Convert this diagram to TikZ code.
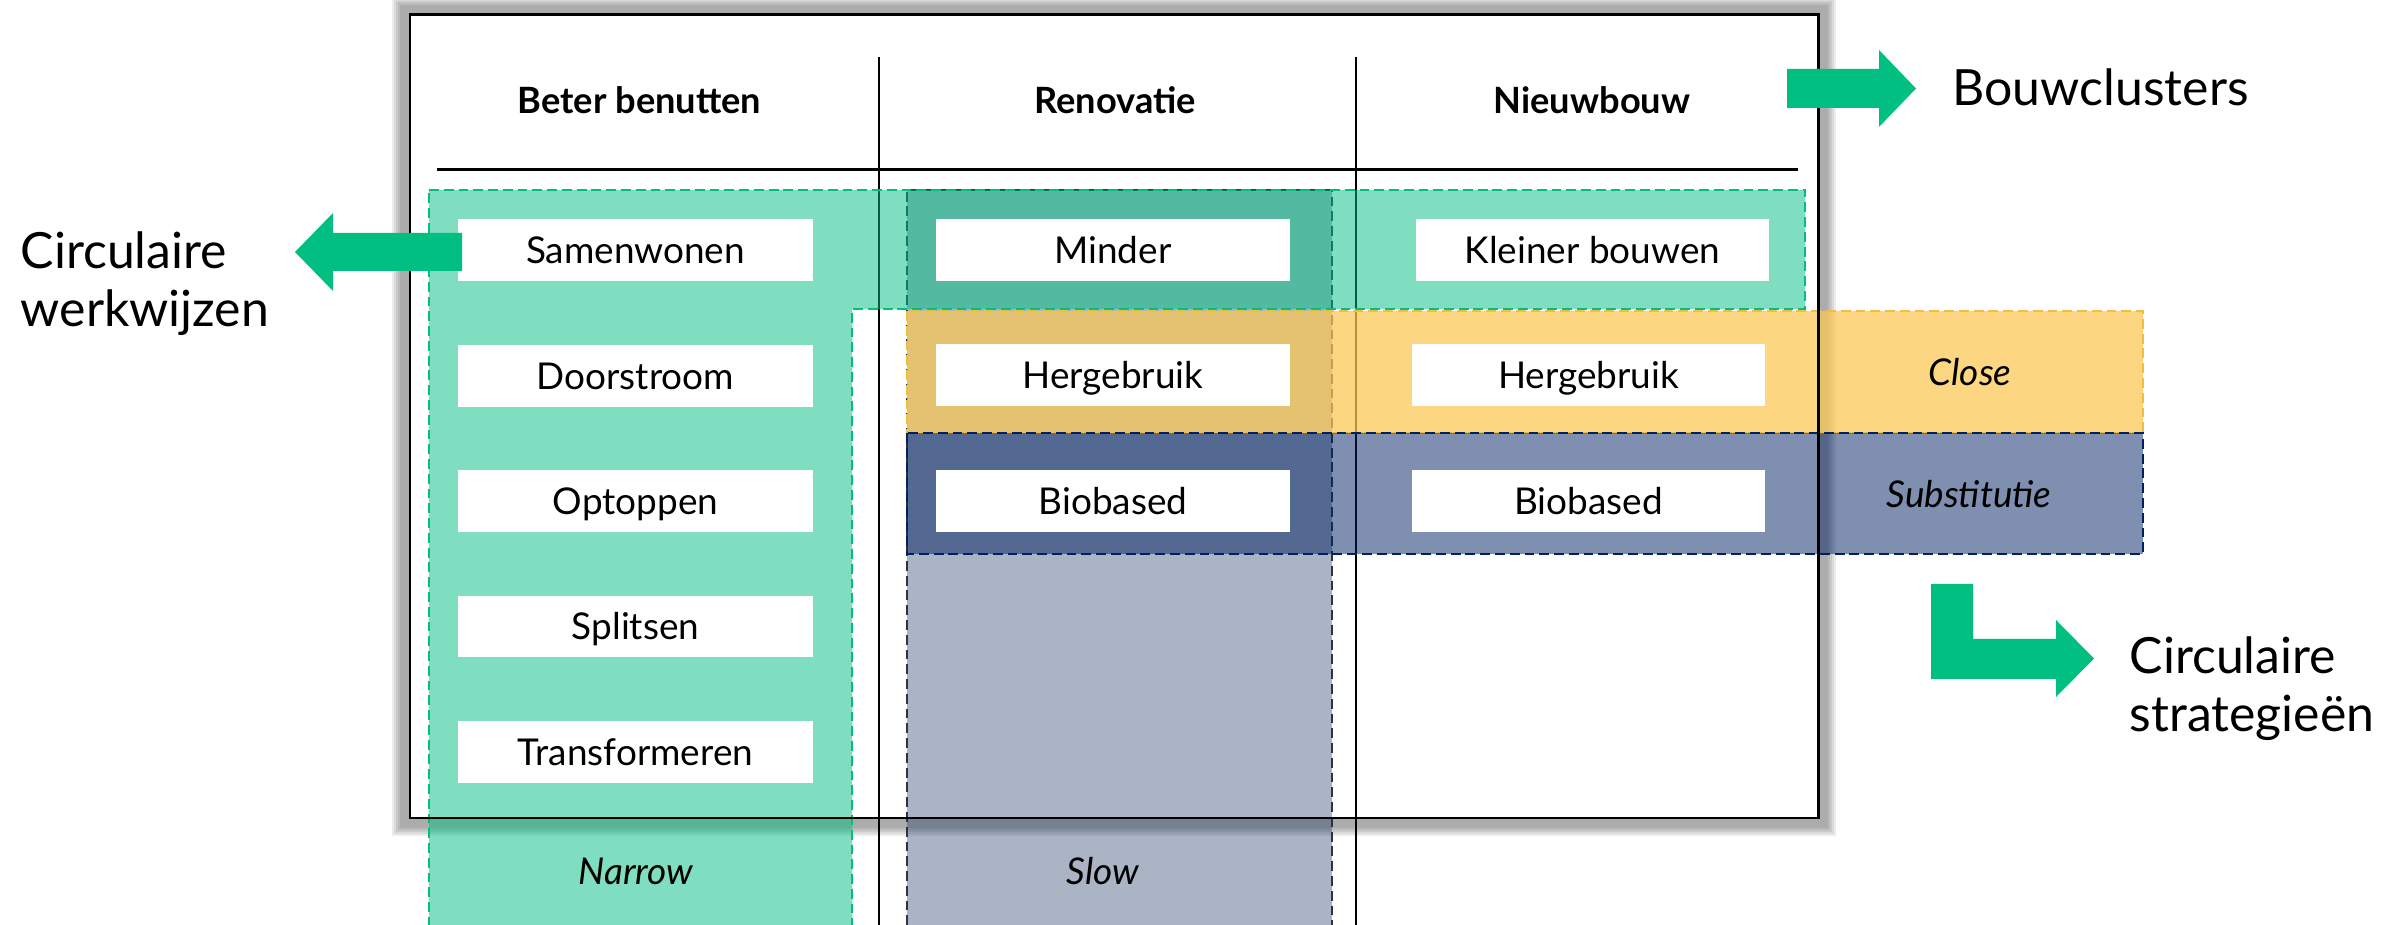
\documentclass[tikz,border=0pt]{standalone}
\usepackage{fontspec}
\setmainfont{Lato}
\definecolor{cgreen}{HTML}{00BF80}
\definecolor{cslow}{HTML}{1F3864}
\definecolor{cyellow}{RGB}{252,200,82}
\definecolor{cyelb}{HTML}{F2BE3C}
\definecolor{cblue}{HTML}{002060}
\definecolor{cslowb}{HTML}{2A3348}
\begin{document}
\begin{tikzpicture}[x=0.01cm,y=-0.01cm,
  wbox/.style={fill=white, inner sep=0pt, minimum height=0.61cm, text height=7.5pt, text depth=0pt, font=\fontsize{10.5}{12}\selectfont},
  hdr/.style={font=\fontsize{10.3}{12}\selectfont\bfseries, inner sep=0pt, text height=7.4pt, text depth=0pt},
  zonelbl/.style={font=\fontsize{10.5}{12}\selectfont\itshape, inner sep=0pt, text height=7.5pt, text depth=0pt},
  side/.style={font=\fontsize{14.2}{16.5}\selectfont, align=left, inner sep=0pt, anchor=base west},
  blockarrow/.style={fill=cgreen, draw=none},
  dashedge/.style={line width=0.45pt, dash pattern=on 2.8pt off 1.4pt},
  rule/.style={line width=0.7pt, black},
]
\useasboundingbox (0,0) rectangle (2402,925);
\clip (0,0) rectangle (2402,925);
\fill[white] (0,0) rectangle (2402,925);

% shadow of the frame
\foreach \k in {10,12,14,16,18}
  \fill[black, opacity=0.075] (410-\k,15-\k) rectangle (1818+\k,818+\k);
\fill[white] (410,15) rectangle (1818,818);

% column dividers and header rule
\draw[rule] (879,57) -- (879,940);
\draw[rule] (1356,57) -- (1356,940);
\draw[rule, line width=0.85pt] (437,170) -- (1798,170);

% Slow column
\fill[cslow, fill opacity=0.375] (907,190) rectangle (1332,940);
\draw[dashedge, cslowb] (907,940) -- (907,190) -- (1332,190) -- (1332,940);

% Narrow (green L shape)
\fill[cgreen, fill opacity=0.5] (429,190) -- (1805,190) -- (1805,309) -- (852,309) -- (852,940) -- (429,940) -- cycle;
\draw[dashedge, cgreen] (429,190) -- (1805,190) -- (1805,309) -- (852,309) -- (852,940) -- (429,940) -- cycle;

% Close row
\fill[cyellow, fill opacity=0.73] (907,311) rectangle (2143,433);
\draw[dashedge, cyelb] (907,311) rectangle (2143,433);

% Substitutie row
\fill[cblue, fill opacity=0.5] (907,433) rectangle (2143,554);
\draw[dashedge, cblue] (907,433) rectangle (2143,554);

% frame border
\draw[line width=0.85pt, black] (410,15) rectangle (1818,818);

% headers
\node[hdr] (hbeter) at (639.5,100.5) {Beter benutten};
\node[hdr] (hreno) at (1115,100.5) {Renovatie};
\node[hdr] (hnieuw) at (1592,100.5) {Nieuwbouw};

% column 1 boxes
\node[wbox, minimum width=3.55cm] (samen) at (635.5,250) {Samenwonen};
\node[wbox, minimum width=3.55cm] (door) at (635.5,376) {Doorstroom};
\node[wbox, minimum width=3.55cm] (optop) at (635.5,501) {Optoppen};
\node[wbox, minimum width=3.55cm] (split) at (635.5,626.5) {Splitsen};
\node[wbox, minimum width=3.55cm] (trans) at (635.5,752) {Transformeren};

% column 2 boxes
\node[wbox, minimum width=3.54cm] (minder) at (1113,250) {Minder};
\node[wbox, minimum width=3.54cm] (herg1) at (1113,375) {Hergebruik};
\node[wbox, minimum width=3.54cm] (bio1) at (1113,501) {Biobased};

% column 3 boxes
\node[wbox, minimum width=3.53cm] (klein) at (1592.5,250) {Kleiner bouwen};
\node[wbox, minimum width=3.53cm] (herg2) at (1588.5,375) {Hergebruik};
\node[wbox, minimum width=3.53cm] (bio2) at (1588.5,501) {Biobased};

% zone labels
\node[zonelbl] (close) at (1970,372) {Close};
\node[zonelbl] (subst) at (1969,494) {Substitutie};
\node[zonelbl] (narrow) at (636,871.5) {Narrow};
\node[zonelbl] (slow) at (1103,871.5) {Slow};

% block arrows
\fill[blockarrow] (462,233) -- (333,233) -- (333,213) -- (295,252) -- (333,291) -- (333,271) -- (462,271) -- cycle;
\fill[blockarrow] (1787,69) -- (1879,69) -- (1879,50) -- (1916,88.5) -- (1879,127) -- (1879,108) -- (1787,108) -- cycle;
\fill[blockarrow] (1931,584) -- (1973,584) -- (1973,639) -- (2056,639) -- (2056,620) -- (2094,658.5) -- (2056,697) -- (2056,679) -- (1931,679) -- cycle;

% side labels (base anchor = baseline of the last line)
\node[side] (werk) at (20,327) {Circulaire\\werkwijzen};
\node[side] (bouw) at (1952,106) {Bouwclusters};
\node[side] (strat) at (2129,732) {Circulaire\\strategieën};
\end{tikzpicture}
\end{document}
